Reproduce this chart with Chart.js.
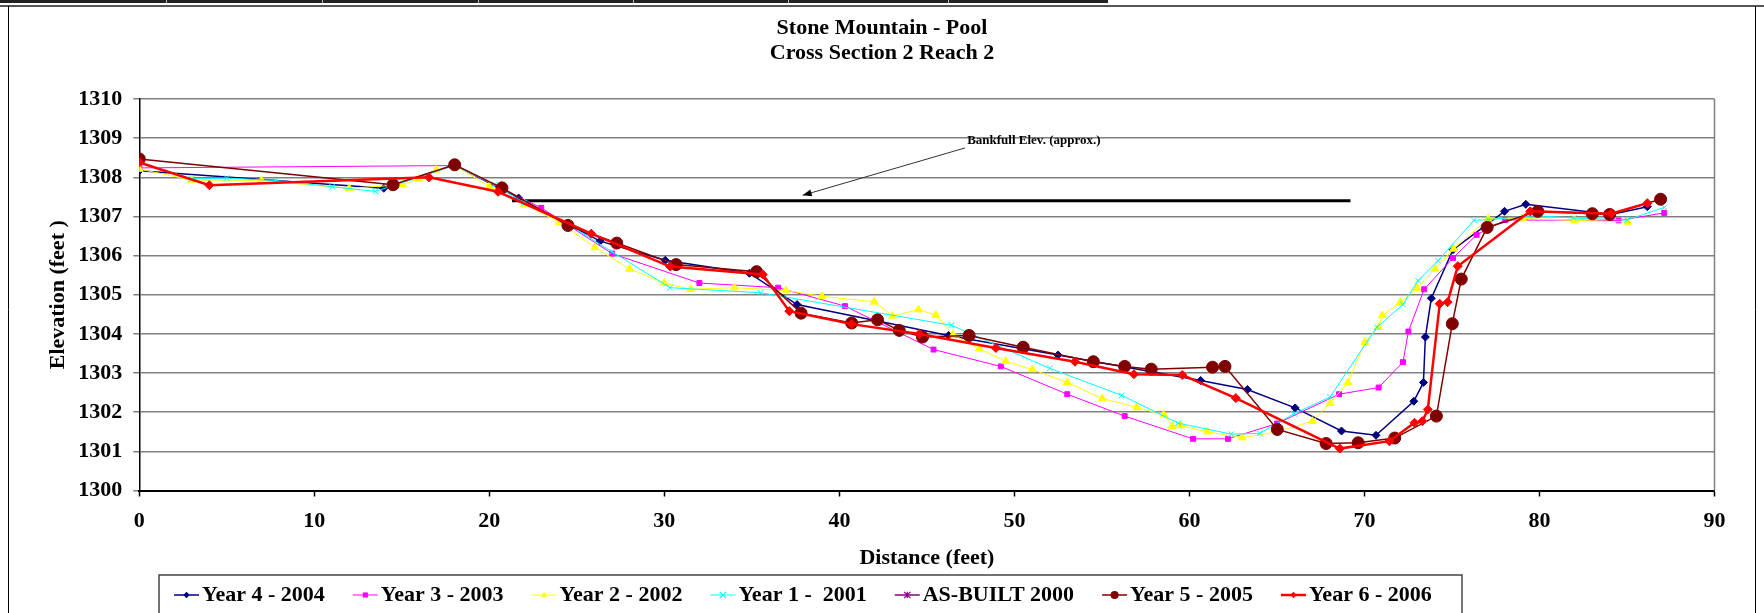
<!DOCTYPE html>
<html>
<head>
<meta charset="utf-8">
<script src="https://cdn.jsdelivr.net/npm/chart.js@4.4.1/dist/chart.umd.min.js"></script>
<style>
  html, body { margin: 0; padding: 0; background: #fff; }
  #wrap { position: relative; width: 1764px; height: 613px; }
</style>
</head>
<body>
<div id="wrap"><canvas id="chart" width="1764" height="613"></canvas></div>
<script>
// distance (ft) / elevation (ft)
const year4X = [0, 13.97, 18.0, 21.67, 26.33, 30.05, 34.86, 37.58, 46.23, 52.49, 60.64, 63.31, 66.04, 68.69, 70.66, 72.82, 73.37, 73.48, 73.82, 75.06, 78.0, 79.22, 84.09, 86.16];
const year4Y = [1308.17, 1307.72, 1308.32, 1307.47, 1306.37, 1305.88, 1305.55, 1304.75, 1303.96, 1303.46, 1302.81, 1302.58, 1302.11, 1301.52, 1301.41, 1302.28, 1302.76, 1303.92, 1304.91, 1306.15, 1307.13, 1307.31, 1307.05, 1307.25];

const year3X = [0, 18.0, 22.97, 27.02, 32.0, 36.5, 40.32, 45.38, 49.22, 53.02, 56.3, 60.2, 62.2, 65.0, 68.55, 70.81, 72.2, 72.51, 73.41, 75.06, 76.41, 78.04, 84.52, 87.13];
const year3Y = [1308.24, 1308.3, 1307.22, 1306.05, 1305.3, 1305.18, 1304.71, 1303.6, 1303.17, 1302.46, 1301.9, 1301.32, 1301.32, 1301.71, 1302.46, 1302.63, 1303.28, 1304.06, 1305.14, 1305.94, 1306.53, 1306.91, 1306.9, 1307.09];

const year2X = [0, 3.0, 6.98, 11.99, 15.03, 15.98, 16.97, 18.0, 20.0, 22.0, 24.01, 26.03, 28.01, 30.0, 31.51, 34.0, 36.95, 39.0, 41.99, 43.04, 44.52, 45.51, 46.5, 47.99, 49.5, 51.03, 53.02, 55.02, 57.0, 58.53, 59.02, 59.5, 61.02, 63.01, 65.02, 67.03, 68.04, 69.06, 70.03, 70.81, 71.02, 72.04, 73.0, 74.03, 75.09, 77.07, 79.02, 82.0, 85.03];
const year2Y = [1308.21, 1307.93, 1307.92, 1307.72, 1307.81, 1307.96, 1308.19, 1308.3, 1307.77, 1307.32, 1306.85, 1306.21, 1305.66, 1305.3, 1305.14, 1305.18, 1305.11, 1304.96, 1304.82, 1304.46, 1304.62, 1304.48, 1303.98, 1303.62, 1303.3, 1303.09, 1302.76, 1302.35, 1302.12, 1301.94, 1301.64, 1301.66, 1301.5, 1301.35, 1301.5, 1301.77, 1302.23, 1302.76, 1303.79, 1304.17, 1304.47, 1304.8, 1305.17, 1305.66, 1306.17, 1306.94, 1306.95, 1306.9, 1306.86];

const year1X = [0, 2.99, 4.99, 7.78, 11.02, 13.49, 18.0, 20.3, 22.0, 24.5, 27.0, 30.33, 35.5, 46.4, 52.02, 56.13, 59.36, 62.39, 64.02, 65.97, 68.04, 70.71, 72.2, 73.06, 74.2, 76.25, 77.07, 79.74, 81.96, 85.0, 87.13];
const year1Y = [1308.4, 1307.96, 1307.98, 1307.92, 1307.76, 1307.64, 1308.3, 1307.81, 1307.35, 1306.8, 1306.1, 1305.18, 1305.05, 1304.22, 1303.12, 1302.43, 1301.72, 1301.44, 1301.46, 1301.96, 1302.39, 1304.17, 1304.75, 1305.36, 1305.87, 1306.9, 1306.92, 1307.02, 1306.96, 1306.91, 1307.23];

// as-built survey is hidden under the later lines, only its legend entry shows
const asBuiltX = [];
const asBuiltY = [];

const year5X = [0, 14.5, 18.02, 20.72, 24.49, 27.28, 30.67, 35.27, 37.81, 40.7, 42.18, 43.42, 44.75, 47.41, 50.5, 54.51, 56.3, 57.82, 61.32, 62.03, 65.02, 67.81, 69.64, 71.73, 74.11, 75.02, 75.53, 77.01, 79.9, 83.02, 84.01, 86.92];
const year5Y = [1308.47, 1307.81, 1308.32, 1307.73, 1306.77, 1306.32, 1305.77, 1305.59, 1304.53, 1304.28, 1304.36, 1304.09, 1303.92, 1303.96, 1303.66, 1303.29, 1303.17, 1303.1, 1303.15, 1303.17, 1301.56, 1301.2, 1301.22, 1301.34, 1301.9, 1304.26, 1305.4, 1306.72, 1307.13, 1307.07, 1307.05, 1307.44];

const year6X = [0, 4.0, 16.55, 20.5, 25.82, 30.33, 35.62, 37.14, 40.7, 44.56, 48.94, 53.46, 56.83, 59.59, 62.65, 68.59, 71.42, 72.86, 73.31, 73.62, 74.3, 74.75, 75.33, 79.47, 84.09, 86.16];
const year6Y = [1308.38, 1307.8, 1308.0, 1307.63, 1306.56, 1305.72, 1305.52, 1304.58, 1304.25, 1304.0, 1303.64, 1303.29, 1302.97, 1302.95, 1302.36, 1301.07, 1301.26, 1301.73, 1301.77, 1302.07, 1304.77, 1304.81, 1305.73, 1307.13, 1307.07, 1307.34];

const bankfullX = [21.3, 69.2];
const bankfullY = [1307.4, 1307.4];

const titleLines = ['Stone Mountain - Pool', 'Cross Section 2 Reach 2'];
const bankfullLabel = 'Bankfull Elev. (approx.)';

const FONT = "'Liberation Serif', 'Times New Roman', serif";

const series = [
    { label: 'Year 4 - 2004', xs: year4X, ys: year4Y, color: '#000080', style: 'rectRot', radius: 4, width: 1.5 },
    { label: 'Year 3 - 2003', xs: year3X, ys: year3Y, color: '#FF00FF', style: 'rect', radius: 3.5, width: 1 },
    { label: 'Year 2 - 2002', xs: year2X, ys: year2Y, color: '#FFFF00', style: 'triangle', radius: 4.5, width: 1 },
    { label: 'Year 1 -  2001', xs: year1X, ys: year1Y, color: '#00FFFF', style: 'crossRot', radius: 4, width: 1 },
    { label: 'AS-BUILT 2000', xs: asBuiltX, ys: asBuiltY, color: '#800080', style: 'star', radius: 4, width: 1.5 },
    { label: 'Year 5 - 2005', xs: year5X, ys: year5Y, color: '#800000', style: 'circle', radius: 6, width: 1.5 },
    { label: 'Year 6 - 2006', xs: year6X, ys: year6Y, color: '#FF0000', style: 'rectRot', radius: 4.5, width: 2.5 },
];

const toPoints = (xs, ys) => xs.map((x, i) => ({ x: x, y: ys[i] }));

const datasets = series.map((s, i) => ({
    label: s.label,
    data: toPoints(s.xs, s.ys),
    borderColor: s.color,
    backgroundColor: s.color,
    borderWidth: s.width,
    pointStyle: s.style,
    pointRadius: s.radius,
    pointBorderWidth: 1,
    showLine: true,
    order: 10 - i, // later surveys drawn on top, like the spreadsheet
}));

datasets.push({
    label: 'Bankfull',
    data: toPoints(bankfullX, bankfullY),
    borderColor: '#000',
    borderWidth: 3,
    pointRadius: 0,
    showLine: true,
    order: 20,
});

// small marker for the hand-drawn legend
function legendMarker(ctx, s, x, y) {
    const r = 3.2;
    ctx.save();
    ctx.fillStyle = s.color;
    ctx.strokeStyle = s.color;
    ctx.lineWidth = 1.2;
    ctx.beginPath();
    switch (s.style) {
        case 'rectRot':
            ctx.moveTo(x, y - r); ctx.lineTo(x + r, y); ctx.lineTo(x, y + r); ctx.lineTo(x - r, y); ctx.closePath(); ctx.fill();
            break;
        case 'rect':
            ctx.rect(x - r * 0.8, y - r * 0.8, r * 1.6, r * 1.6); ctx.fill();
            break;
        case 'triangle':
            ctx.moveTo(x, y - r); ctx.lineTo(x + r, y + r * 0.7); ctx.lineTo(x - r, y + r * 0.7); ctx.closePath(); ctx.fill();
            break;
        case 'crossRot':
            ctx.moveTo(x - r, y - r); ctx.lineTo(x + r, y + r); ctx.moveTo(x + r, y - r); ctx.lineTo(x - r, y + r); ctx.stroke();
            break;
        case 'star':
            ctx.moveTo(x - r, y - r); ctx.lineTo(x + r, y + r); ctx.moveTo(x + r, y - r); ctx.lineTo(x - r, y + r);
            ctx.moveTo(x, y - r); ctx.lineTo(x, y + r); ctx.stroke();
            break;
        default:
            ctx.arc(x, y, r + 0.8, 0, Math.PI * 2); ctx.fill();
    }
    ctx.restore();
}

const framePlugin = {
    id: 'frame',
    beforeDraw(chart) {
        const ctx = chart.ctx;
        ctx.save();
        ctx.fillStyle = '#fff';
        ctx.fillRect(0, 0, chart.width, chart.height);
        // spreadsheet strip above the chart object
        ctx.fillStyle = '#222';
        ctx.fillRect(0, 0, 1108, 3);
        ctx.fillStyle = '#bbb';
        [166, 322, 478, 633, 788, 948].forEach(x => ctx.fillRect(x, 0, 1, 3));
        ctx.fillStyle = '#555';
        ctx.fillRect(0, 5, chart.width, 2);
        ctx.strokeStyle = '#000';
        ctx.lineWidth = 1;
        ctx.beginPath();
        ctx.moveTo(8.5, 6); ctx.lineTo(8.5, chart.height);
        ctx.moveTo(1755.5, 6); ctx.lineTo(1755.5, chart.height);
        ctx.stroke();
        ctx.restore();
    },
    afterDraw(chart) {
        const ctx = chart.ctx;
        const area = chart.chartArea;
        const xs = chart.scales.x;
        const ys = chart.scales.y;
        ctx.save();

        // plot area right edge
        ctx.strokeStyle = '#808080';
        ctx.lineWidth = 1.5;
        ctx.beginPath();
        ctx.moveTo(area.right, area.top);
        ctx.lineTo(area.right, area.bottom);
        ctx.stroke();

        // title
        ctx.fillStyle = '#000';
        ctx.textAlign = 'center';
        ctx.textBaseline = 'middle';
        ctx.font = 'bold 22px ' + FONT;
        ctx.fillText(titleLines[0], 882, 28);
        ctx.fillText(titleLines[1], 882, 53);

        // bankfull note and arrow
        ctx.font = 'bold 13px ' + FONT;
        ctx.textAlign = 'left';
        ctx.fillText(bankfullLabel, xs.getPixelForValue(47.3), ys.getPixelForValue(1308.93));
        const x1 = xs.getPixelForValue(47.18), y1 = ys.getPixelForValue(1308.75);
        const x2 = xs.getPixelForValue(37.9), y2 = ys.getPixelForValue(1307.54);
        const ang = Math.atan2(y2 - y1, x2 - x1);
        ctx.strokeStyle = '#333';
        ctx.lineWidth = 1;
        ctx.beginPath();
        ctx.moveTo(x1, y1);
        ctx.lineTo(x2, y2);
        ctx.stroke();
        ctx.fillStyle = '#000';
        ctx.beginPath();
        ctx.moveTo(x2, y2);
        ctx.lineTo(x2 - 9 * Math.cos(ang) + 3.5 * Math.sin(ang), y2 - 9 * Math.sin(ang) - 3.5 * Math.cos(ang));
        ctx.lineTo(x2 - 9 * Math.cos(ang) - 3.5 * Math.sin(ang), y2 - 9 * Math.sin(ang) + 3.5 * Math.cos(ang));
        ctx.closePath();
        ctx.fill();

        // legend box
        ctx.strokeStyle = '#444';
        ctx.lineWidth = 1.5;
        ctx.strokeRect(159, 575, 1303, 50);
        ctx.font = 'bold 22px ' + FONT;
        ctx.textBaseline = 'middle';
        let lx = 174;
        const ly = 595;
        series.forEach(s => {
            ctx.strokeStyle = s.color;
            ctx.lineWidth = s.width;
            ctx.beginPath();
            ctx.moveTo(lx, ly);
            ctx.lineTo(lx + 25, ly);
            ctx.stroke();
            legendMarker(ctx, s, lx + 12.5, ly);
            ctx.fillStyle = '#000';
            ctx.fillText(s.label, lx + 28, ly);
            lx += 28 + ctx.measureText(s.label).width + 28;
        });
        ctx.restore();
    }
};

const axisFont = { family: FONT, size: 22, weight: 'bold' };

new Chart(document.getElementById('chart'), {
    type: 'scatter',
    data: { datasets: datasets },
    options: {
        responsive: false,
        animation: false,
        layout: { padding: { left: 10, top: 99, right: 49.5, bottom: 37.8 } },
        elements: { line: { tension: 0 } },
        plugins: {
            legend: { display: false },
            title: { display: false },
            tooltip: { enabled: false },
        },
        scales: {
            x: {
                type: 'linear',
                min: 0,
                max: 90,
                ticks: { stepSize: 10, font: axisFont, color: '#000', padding: 12, callback: (v) => String(v) },
                grid: { drawOnChartArea: false, tickLength: 6, tickColor: '#000', tickWidth: 1.5 },
                border: { color: '#000', width: 2 },
                title: { display: true, text: 'Distance (feet)', font: axisFont, color: '#000', padding: { top: 0, bottom: 4 } },
                afterFit: (scale) => { scale.height = 84.7; },
            },
            y: {
                min: 1300,
                max: 1310,
                ticks: { stepSize: 1, font: axisFont, color: '#000', padding: 11, callback: (v) => String(v) },
                grid: { color: '#808080', lineWidth: 1.5, tickLength: 6, tickColor: '#808080' },
                border: { color: '#000', width: 1.5 },
                title: { display: true, text: 'Elevation (feet )', font: axisFont, color: '#000', padding: { top: 35, bottom: 0 } },
                afterFit: (scale) => { scale.width = 129.3; },
            },
        },
    },
    plugins: [framePlugin],
});
</script>
</body>
</html>
